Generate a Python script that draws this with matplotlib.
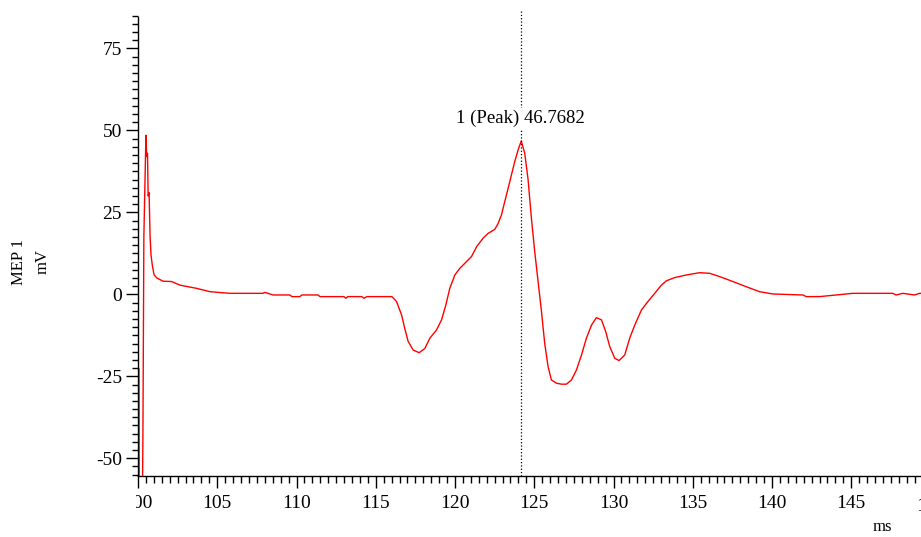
import matplotlib.pyplot as plt
from matplotlib.ticker import MultipleLocator
from matplotlib.transforms import Bbox

# trace (ms, mV)
tiempo = [99.80, 99.95, 99.97, 100.02, 100.04, 100.07, 100.28, 100.31, 100.37, 100.50,
          100.55, 100.60, 100.64, 100.70, 100.76, 100.82, 100.90, 101.01, 101.18, 101.58,
          102.12, 102.65, 103.72, 104.54, 105.80, 107.88, 108.00, 108.20, 108.51, 109.58,
          109.71, 110.21, 110.34, 111.35, 111.48, 112.99, 113.11, 113.24, 114.12, 114.25,
          114.44, 116.02, 116.31, 116.63, 116.83, 117.04, 117.36, 117.74, 118.10, 118.41,
          118.83, 119.15, 119.42, 119.67, 119.99, 120.30, 120.73, 121.04, 121.36, 121.77,
          122.09, 122.51, 122.72, 122.93, 123.14, 123.35, 123.56, 123.77, 123.98, 124.18,
          124.40, 124.61, 124.82, 125.03, 125.24, 125.45, 125.66, 125.87, 126.08, 126.40,
          126.72, 127.03, 127.35, 127.66, 127.98, 128.29, 128.61, 128.92, 129.24, 129.51,
          129.76, 130.08, 130.35, 130.71, 131.02, 131.34, 131.76, 132.17, 132.60, 133.02,
          133.33, 133.86, 134.60, 135.44, 136.07, 136.70, 137.53, 138.38, 139.22, 140.06,
          141.95, 142.16, 143.00, 144.05, 145.10, 147.62, 147.83, 148.25, 148.99, 149.31,
          149.60]
mep = [0.0, 0.0, -62.0, -62.0, -22.6, -62.0, -62.0, -43.0, 17.7, 48.5,
       42.0, 43.0, 30.0, 31.0, 18.0, 12.0, 9.0, 6.0, 5.0, 4.0,
       3.9, 2.8, 1.8, 0.8, 0.3, 0.3, 0.6, 0.3, -0.2, -0.2,
       -0.7, -0.7, -0.2, -0.2, -0.7, -0.7, -1.2, -0.7, -0.7, -1.2,
       -0.7, -0.7, -2.2, -6.3, -10.4, -14.3, -17.0, -17.8, -16.5, -13.4,
       -10.9, -7.8, -3.3, 1.8, 5.9, 7.9, 10.0, 11.5, 14.5, 17.1,
       18.6, 19.8, 21.6, 24.2, 28.3, 32.3, 36.4, 40.5, 44.0, 46.7682,
       43.0, 35.0, 23.2, 13.0, 4.0, -5.0, -15.0, -22.0, -26.1, -27.1,
       -27.4, -27.4, -26.1, -23.1, -18.5, -13.4, -9.4, -7.1, -7.8, -11.4,
       -15.9, -19.5, -20.2, -18.5, -13.4, -9.4, -4.8, -2.2, 0.3, 2.8,
       4.1, 5.1, 5.9, 6.6, 6.4, 5.4, 3.9, 2.3, 0.8, 0.1,
       -0.2, -0.7, -0.7, -0.2, 0.3, 0.3, -0.2, 0.3, -0.2, 0.3,
       0.3]

pico_t = 124.15
pico_v = 46.7682
xticks = [100, 105, 110, 115, 120, 125, 130, 135, 140, 145]
yticks = [-50, -25, 0, 25, 50, 75]

plt.rcParams['font.family'] = ['Liberation Serif', 'DejaVu Serif']
plt.rcParams['axes.unicode_minus'] = False

W, H = 921, 537
fig = plt.figure(figsize=(W / 100, H / 100), dpi=100)
ax = fig.add_axes([138 / W, 61 / H, 1 - 138 / W, 467 / H])

ax.plot(tiempo, mep, color='#ff0000', lw=1.0)
ax.set_xlim(100, 149.4)
ax.set_ylim(-55.4, 87)

for s in ['top', 'right']:
    ax.spines[s].set_visible(False)
ax.spines['left'].set_bounds(-55.4, 84.5)
ax.spines['left'].set_linewidth(1.0)
ax.spines['bottom'].set_linewidth(1.0)

ax.set_xticks(xticks)
ax.set_yticks(yticks)
ax.xaxis.set_minor_locator(MultipleLocator(0.5))
ax.yaxis.set_minor_locator(MultipleLocator(2.5))
ax.tick_params(which='major', length=8.6, width=1.0, labelsize=14, pad=3)
ax.tick_params(axis='x', which='major', pad=5)
ax.tick_params(axis='x', which='minor', length=5, width=1.0)
ax.tick_params(axis='y', which='minor', length=4.3, width=1.0)

# the "100" label is cut by the left edge of the plot panel
clip = Bbox.from_extents(136, 0, W, H)
for lab in ax.get_xticklabels():
    lab.set_clip_on(True)
    lab.set_clip_box(clip)

# "150" sits past the right edge, only its first digit shows
ax.annotate('150', xy=(150, 0), xycoords=('data', 'axes fraction'),
            xytext=(0, -16), textcoords='offset points',
            ha='center', va='top', fontsize=14, annotation_clip=False)

# peak cursor
ax.axvline(pico_t, color='black', ls=':', lw=0.9)
ax.text(pico_t, 53.6, '1 (Peak) %.4f' % pico_v, ha='center', va='center',
        fontsize=13.5, bbox=dict(facecolor='white', edgecolor='none', pad=1.5))

fig.text(31 / W, 1 - 262 / H, 'MEP 1\nmV', rotation=90, ha='center', va='center',
         multialignment='center', linespacing=1.6, fontsize=12)
fig.text(882 / W, 1 - 527 / H, 'ms', ha='center', va='center', fontsize=12)

fig.savefig('out.png', dpi=100, facecolor='white')
